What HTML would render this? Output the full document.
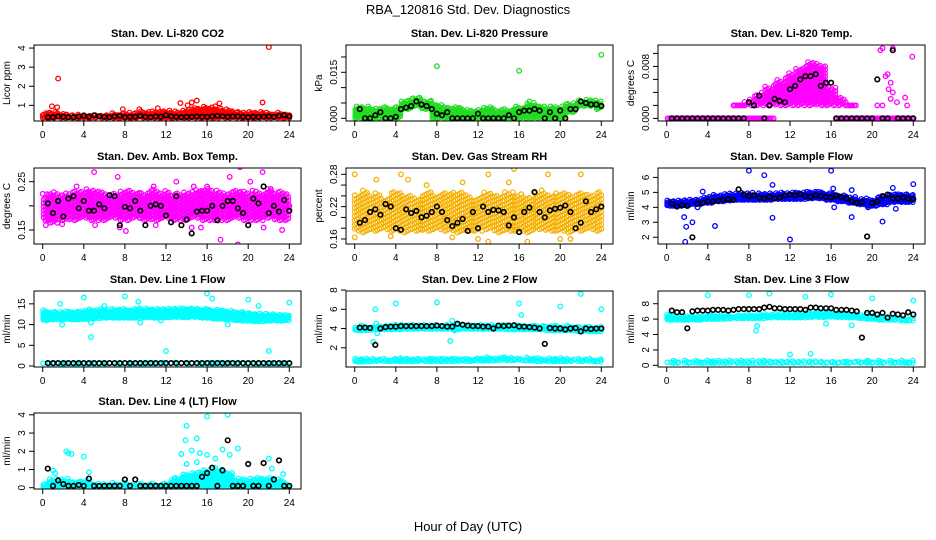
<!DOCTYPE html>
<html><head><meta charset="utf-8"><style>
html,body{margin:0;padding:0;background:#fff;}
svg{display:block;font-family:"Liberation Sans",sans-serif;}
</style></head><body>
<svg id="chart" width="936" height="540" viewBox="0 0 936 540" xmlns="http://www.w3.org/2000/svg">
<rect width="936" height="540" fill="#fff"/>
<text x="468" y="14" text-anchor="middle" font-size="13">RBA_120816  Std. Dev. Diagnostics</text>
<text x="468" y="531" text-anchor="middle" font-size="13">Hour of Day (UTC)</text>
<g id="plots"></g>
</svg>
<script>
const hours1 = [0,1,2,3,4,5,6,7,8,9,10,11,12,13,14,15,16,17,18,19,20,21,22,23,24];
const hours2 = [0,0.5,1,1.5,2,2.5,3,3.5,4,4.5,5,5.5,6,6.5,7,7.5,8,8.5,9,9.5,10,10.5,11,11.5,12,12.5,13,13.5,14,14.5,15,15.5,16,16.5,17,17.5,18,18.5,19,19.5,20,20.5,21,21.5,22,22.5,23,23.5,24];
const xTicks = [0,4,8,12,16,20,24];

// CO2
const co2Lo = [0.35,0.35,0.35,0.35,0.35,0.35,0.35,0.35,0.35,0.35,0.35,0.35,0.35,0.35,0.35,0.35,0.35,0.35,0.35,0.35,0.35,0.35,0.35,0.35,0.35];
const co2Hi = [0.65,0.7,0.6,0.55,0.55,0.55,0.55,0.6,0.65,0.65,0.7,0.7,0.75,0.7,0.8,0.9,0.95,0.85,0.8,0.72,0.7,0.68,0.62,0.65,0.6];
const co2Black = [null,0.38,0.38,0.42,0.4,0.38,0.38,0.42,0.45,0.4,0.48,0.42,0.4,0.38,0.42,0.45,0.38,0.4,0.4,0.45,0.4,0.38,0.42,0.4,0.48,0.42,0.4,0.38,0.4,0.4,0.42,0.4,0.4,0.42,0.45,0.42,0.4,0.42,0.42,0.4,0.38,0.4,0.4,0.4,0.42,0.4,0.45,0.48,0.42];
const co2OutX = [1.5,22,0.9,1.4,13.4,15,17.2,21.4,9.4,7.8,11.2,14.5,14.1,16.8];
const co2OutY = [2.4,4.05,0.95,0.9,1.12,1.25,1.1,1.15,0.8,0.8,0.85,1.15,1.0,0.95];

// Pressure
const presLo = [0,0,0,0,0,0.003,0.004,0.003,0,0,0,0,0,0,0,0,0,0,0,0,0,0.002,0.004,0.004,0.003];
const presHi = [0.004,0.004,0.0035,0.004,0.004,0.006,0.007,0.006,0.005,0.004,0.004,0.003,0.003,0.004,0.003,0.003,0.004,0.005,0.0045,0.004,0.004,0.005,0.006,0.0065,0.006];
const presBlack = [null,0.003,0,0,0.001,0.002,0,0,0.0005,0.003,0.0035,0.004,0.0055,0.0045,0.004,0.003,0.0015,0.001,0.002,0,0,0,0,0,0.0015,0,0,0,0,0,0.001,0,0.002,0.0025,0.0025,0.003,0.0025,0,0.002,0,0.0025,0,0.003,0.003,0.0055,0.005,0.0045,0.0045,0.004];
const presOutX = [8,16,24,17];
const presOutY = [0.017,0.0155,0.0207,0.0055];

// Li-820 Temp
const tempLo = [null,null,null,null,null,null,null,0.002,0.002,0.002,0.002,0.002,0.002,0.002,0.002,0.002,0.002,0.002,0.002,null,null,null,null,null,null];
const tempHi = [null,null,null,null,null,null,null,0.002,0.003,0.004,0.005,0.006,0.007,0.008,0.0088,0.0085,0.005,0.0035,0.002,null,null,null,null,null,null];
const tempZeroLo = [0,0,0,0,0,0,0,0,0,0,0,null,null,null,null,null,null,0,0,0,0,0,0,0,0];
const tempZeroHi = [0,0,0,0,0,0,0,0,0,0,0,null,null,null,null,null,null,0,0,0,0,0,0,0,0];
const tempBlack = [null,0,0,0,0,0,0,0,0,0,0,0,0,0,0,0,0.0025,0.002,0.0035,0,0.002,0.003,0.0027,0.0025,0.0045,0.005,0.006,0.0065,0.0065,0.0068,0.005,0.0055,0.0055,0,0,0,0,0,0,0,0,0.006,0,0,0.0105,0,0,0,0];
const tempOutX = [20.8,21,22,23.9,21.3,21.5,21.8,22,21.6,21.8,23.2,23.4,22.4,20.5,21,6.5];
const tempOutY = [0.0105,0.0108,0.0108,0.0095,0.0065,0.0068,0.0055,0.004,0.0045,0.003,0.0032,0.002,0.0025,0.002,0.002,0.002];

// Amb box temp
const ambLo = [0.17,0.165,0.17,0.17,0.175,0.17,0.17,0.175,0.17,0.175,0.17,0.17,0.175,0.17,0.17,0.175,0.17,0.17,0.17,0.175,0.17,0.17,0.175,0.17,0.17];
const ambHi = [0.225,0.23,0.228,0.232,0.235,0.235,0.23,0.228,0.235,0.232,0.23,0.235,0.232,0.228,0.23,0.235,0.238,0.232,0.23,0.235,0.232,0.23,0.235,0.232,0.228];
const ambBlack = [null,0.205,0.185,0.21,0.178,0.215,0.22,0.195,0.21,0.19,0.19,0.203,0.195,0.222,0.22,0.16,0.198,0.195,0.21,0.19,0.16,0.2,0.203,0.2,0.18,0.166,0.22,0.16,0.172,0.143,0.188,0.19,0.19,0.2,0.17,0.2,0.21,0.21,0.195,0.185,0.16,0.215,0.205,0.24,0.185,0.2,0.188,0.212,0.19];
const ambOutX = [0,0.3,1.9,3.3,5,5.1,7.3,7.5,8.1,10.8,11,13,13.5,14.5,14.7,15.4,16,17.3,18.2,19,19.2,20.2,21.4,21.5,22.2,23.3,24];
const ambOutY = [0.225,0.16,0.162,0.24,0.27,0.16,0.26,0.155,0.148,0.24,0.16,0.25,0.16,0.155,0.24,0.155,0.24,0.13,0.26,0.12,0.28,0.25,0.27,0.155,0.235,0.15,0.2];

// Gas stream RH
const rhLo = [0.175,0.172,0.175,0.178,0.175,0.172,0.175,0.175,0.178,0.175,0.172,0.175,0.175,0.178,0.172,0.175,0.175,0.172,0.178,0.175,0.175,0.172,0.175,0.178,0.175];
const rhHi = [0.245,0.25,0.245,0.24,0.25,0.245,0.24,0.25,0.245,0.25,0.25,0.245,0.24,0.25,0.245,0.25,0.245,0.24,0.25,0.245,0.25,0.245,0.25,0.245,0.25];
const rhBlack = [null,0.19,0.195,0.21,0.215,0.205,0.225,0.22,0.18,0.177,0.215,0.208,0.212,0.2,0.203,0.21,0.22,0.21,0.195,0.184,0.19,0.197,0.175,0.21,0.18,0.22,0.21,0.214,0.213,0.21,0.185,0.2,0.173,0.21,0.218,0.247,0.21,0.2,0.213,0.216,0.218,0.222,0.21,0.18,0.19,0.23,0.21,0.215,0.22];
const rhOutX = [0,0,2.1,4.5,5.2,7,9.5,10.5,13,15,15.5,16.8,18.8,22,13,20,21,3.5,12];
const rhOutY = [0.28,0.163,0.27,0.28,0.27,0.26,0.163,0.265,0.28,0.265,0.29,0.155,0.28,0.28,0.155,0.16,0.16,0.165,0.16];

// Sample flow
const flowLo = [4.1,4.1,4.15,4.2,4.3,4.4,4.45,4.5,4.5,4.5,4.5,4.55,4.55,4.55,4.6,4.6,4.5,4.4,4.3,4.2,4.1,4.2,4.35,4.35,4.35];
const flowHi = [4.5,4.5,4.55,4.6,4.75,4.85,4.95,5.0,5.0,4.95,4.95,5.0,5.0,5.05,5.1,5.1,5.0,4.85,4.7,4.6,4.55,4.8,4.95,4.95,4.9];
const flowBlack = [null,4.25,4.05,4.15,4.1,2.0,4.25,4.3,4.4,4.4,4.45,4.5,4.55,4.5,5.2,4.85,4.75,4.8,4.65,4.6,4.7,4.6,4.65,4.8,4.85,4.8,4.9,4.75,4.7,4.8,4.75,4.7,4.65,4.8,4.7,4.6,4.4,4.3,4.35,2.05,4.3,4.4,4.75,4.85,4.6,4.6,4.65,4.6,4.55];
const flowOutX = [1.7,1.9,1.8,2.5,3.5,4.7,8,9.5,10.3,10.3,12,16,16.2,16.3,18,18,21,22,22.3,24,3,19.6];
const flowOutY = [3.35,2.7,1.7,3.0,5.05,2.75,6.45,6.15,5.5,3.3,1.85,6.45,5.25,4.0,3.35,5.15,3.05,5.3,3.9,5.55,4.0,4.0];

// Line 1
const l1Lo = [11,11.2,11.3,11.2,11.3,11.5,11.6,11.6,11.6,11.6,11.7,11.6,11.7,11.8,11.7,11.8,11.6,11.4,11.3,11.0,10.9,10.8,10.9,10.9,11];
const l1Hi = [13.5,13.3,13.2,13.3,13.5,13.7,13.8,13.8,13.8,13.9,13.9,13.9,14,14.1,14.1,14.1,14,13.8,13.5,13.3,13,12.8,12.7,12.6,12.5];
const l1BaseLo = [0.5,0.5,0.5,0.5,0.5,0.5,0.5,0.5,0.5,0.5,0.5,0.5,0.5,0.5,0.5,0.5,0.5,0.5,0.5,0.5,0.5,0.5,0.5,0.5,0.5];
const l1BaseHi = [0.9,0.9,0.9,0.9,0.9,0.9,0.9,0.9,0.9,0.9,0.9,0.9,0.9,0.9,0.9,0.9,0.9,0.9,0.9,0.9,0.9,0.9,0.9,0.9,0.9];
const l1Black = [null,0.7,0.7,0.7,0.7,0.7,0.7,0.7,0.7,0.7,0.7,0.7,0.7,0.7,0.7,0.7,0.7,0.7,0.7,0.7,0.7,0.7,0.7,0.7,0.7,0.7,0.7,0.7,0.7,0.7,0.7,0.7,0.7,0.7,0.7,0.7,0.7,0.7,0.7,0.7,0.7,0.7,0.7,0.7,0.7,0.7,0.7,0.7,0.7];
const l1OutX = [1.7,1.9,4,4.7,4.7,6,8,9.3,9.5,11.5,12,16,16.5,18,20,21,22,24];
const l1OutY = [15,10,16.5,10.5,7,14.5,16.8,15.5,10.5,11,3.6,17.5,16.3,10,16,14.5,3.6,15.3];

// Line 2
const l2Lo = [3.8,3.8,3.9,3.9,3.9,3.95,3.95,3.95,3.95,3.95,3.9,3.95,3.95,3.95,3.95,3.9,3.9,3.9,3.9,3.8,3.8,3.8,3.7,3.7,3.7];
const l2Hi = [4.3,4.3,4.3,4.35,4.4,4.4,4.4,4.4,4.4,4.4,4.4,4.45,4.45,4.45,4.45,4.45,4.45,4.4,4.4,4.35,4.3,4.3,4.25,4.2,4.2];
const l2BaseLo = [0.55,0.55,0.6,0.6,0.6,0.6,0.6,0.6,0.6,0.6,0.6,0.6,0.65,0.65,0.7,0.7,0.7,0.65,0.6,0.6,0.6,0.6,0.6,0.6,0.55];
const l2BaseHi = [0.95,0.9,0.9,0.9,0.95,0.95,0.95,0.95,0.95,0.95,0.95,0.95,1.0,1.05,1.05,1.05,1.0,1.0,0.95,0.95,0.95,0.9,0.9,0.9,0.9];
const l2Black = [null,4.1,4.1,4.05,2.3,4.0,4.15,4.2,4.2,4.25,4.25,4.25,4.25,4.25,4.25,4.25,4.3,4.25,4.2,4.2,4.5,4.4,4.3,4.25,4.25,4.2,4.2,4.0,4.3,4.25,4.3,4.35,4.2,4.2,4.15,4.1,4.0,2.4,4.05,4.0,4.0,3.9,4.0,4.05,3.7,4.0,3.95,4.0,4.0];
const l2OutX = [2,1.8,4,8,9.5,9.3,9.7,16,16.2,20,22,24,2.2,2.1];
const l2OutY = [6,2.6,6.6,6.7,4.8,2.7,3.8,6.6,5.4,6.3,7.6,6,3.5,4.5];

// Line 3
const l3Lo = [5.9,5.9,5.9,5.9,6.0,6.0,6.05,6.1,6.1,6.1,6.2,6.2,6.2,6.2,6.25,6.25,6.3,6.25,6.2,6.1,6.0,5.9,5.9,5.8,5.8];
const l3Hi = [6.8,6.5,6.5,6.5,6.6,6.6,6.6,6.6,6.7,6.7,6.7,6.75,6.8,6.9,6.95,7.0,7.0,6.9,6.8,6.6,6.5,6.4,6.3,6.2,6.2];
const l3BaseLo = [0.3,0.3,0.3,0.3,0.3,0.3,0.3,0.3,0.3,0.3,0.3,0.3,0.3,0.3,0.3,0.3,0.3,0.3,0.3,0.3,0.3,0.3,0.3,0.3,0.3];
const l3BaseHi = [0.6,0.6,0.6,0.6,0.6,0.6,0.6,0.6,0.6,0.6,0.6,0.6,0.6,0.6,0.6,0.6,0.6,0.6,0.6,0.6,0.6,0.6,0.6,0.6,0.6];
const l3Black = [null,7.1,6.9,6.9,4.8,7.0,7.1,7.1,7.1,7.2,7.2,7.2,7.1,7.2,7.3,7.3,7.3,7.3,7.3,7.5,7.6,7.4,7.4,7.3,7.3,7.3,7.3,7.2,7.5,7.5,7.4,7.4,7.4,7.2,7.2,7.2,7.1,7.0,3.6,6.8,6.8,6.6,6.8,6.2,6.7,6.6,6.5,6.9,6.6];
const l3OutX = [4,8,10,13.5,16,24,12,14,8.7,8.8,15.5,18,20];
const l3OutY = [9.1,9.1,9.3,8.9,9.2,8.4,1.4,1.5,4.5,5.1,5.4,5.2,8.7];

// Line 4
const l4Lo = [0,0,0,0,0,0,0,0,0,0,0,0,0,0,0,0,0,0,0,0,0,0,0,0,0];
const l4Hi = [0.3,0.5,0.5,0.4,0.45,0.3,0.25,0.3,0.3,0.25,0.25,0.25,0.3,0.6,0.8,0.9,1.0,1.0,0.9,0.5,0.5,0.6,0.6,0.5,0.3];
const l4Black = [null,1.05,0.1,0.4,0.2,0.1,0.1,0.15,0.1,0.5,0.1,0.1,0.1,0.1,0.1,0.1,0.45,0.1,0.45,0.1,0.1,0.1,0.1,0.1,0.1,0.1,0.1,0.1,0.1,0.1,0.1,0.6,0.8,1.1,0.1,0.95,2.6,0.1,0.1,0.1,1.3,0.1,0.1,1.35,0.1,0.45,1.5,0.1,0.1];
const l4OutX = [2.3,2.5,2.8,4,4.5,1.2,1,14,13.9,15,16,18,17.5,19,14.5,13.5,15.3,16,16.8,22,22.3,18.2,15,14,16.8,23.4];
const l4OutY = [2.0,1.9,1.85,1.7,0.85,0.8,0.95,3.4,2.6,2.7,3.9,4.0,2.1,2.15,2.05,1.85,1.9,1.8,1.6,1.6,1.05,1.8,1.4,1.3,1.1,0.75];

const colX = [34,346,658], rowY = [45,168,291,413], BW = 267, BH = 76;
const panels = [
 {key:'co2',title:'Stan. Dev. Li-820 CO2',ylab:'Licor ppm',c:0,r:0,ylim:[0.18,4.16],ticks:[1,2,3,4],labels:['1','2','3','4'],col:'#ff0000',sp:2.6,cols:9,bands:[[co2Lo,co2Hi]],black:co2Black,ox:co2OutX,oy:co2OutY},
 {key:'pressure',title:'Stan. Dev. Li-820 Pressure',ylab:'kPa',c:1,r:0,ylim:[-0.00088,0.0239],ticks:[0,0.005,0.010,0.015,0.020],labels:['0.000','','','0.015',''],col:'#22dd22',sp:2.8,cols:8,bands:[[presLo,presHi]],black:presBlack,ox:presOutX,oy:presOutY},
 {key:'temp',title:'Stan. Dev. Li-820 Temp.',ylab:'degrees C',c:2,r:0,ylim:[-0.0004,0.0113],ticks:[0,0.002,0.004,0.006,0.008,0.010],labels:['0.000','','','','0.008',''],col:'#ff00ff',sp:3.4,cols:6,bands:[[tempLo,tempHi],[tempZeroLo,tempZeroHi]],black:tempBlack,ox:tempOutX,oy:tempOutY},
 {key:'ambbox',title:'Stan. Dev. Amb. Box Temp.',ylab:'degrees C',c:0,r:1,ylim:[0.121,0.2784],ticks:[0.15,0.20,0.25],labels:['0.15','','0.25'],col:'#ff00ff',sp:3.6,cols:6,bands:[[ambLo,ambHi]],black:ambBlack,ox:ambOutX,oy:ambOutY},
 {key:'rh',title:'Stan. Dev. Gas Stream RH',ylab:'percent',c:1,r:1,ylim:[0.1507,0.2917],ticks:[0.16,0.18,0.20,0.22,0.24,0.26,0.28],labels:['0.16','','','0.22','','','0.28'],col:'#f5b000',sp:4.2,cols:5,bands:[[rhLo,rhHi]],black:rhBlack,ox:rhOutX,oy:rhOutY},
 {key:'sampleflow',title:'Stan. Dev. Sample Flow',ylab:'ml/min',c:2,r:1,ylim:[1.55,6.63],ticks:[2,3,4,5,6],labels:['2','3','4','5','6'],col:'#0000ff',sp:2.4,cols:10,bands:[[flowLo,flowHi]],black:flowBlack,ox:flowOutX,oy:flowOutY},
 {key:'line1',title:'Stan. Dev. Line 1 Flow',ylab:'ml/min',c:0,r:2,ylim:[-0.24,18.1],ticks:[0,5,10,15],labels:['0','5','10','15'],col:'#00ffff',sp:2.4,cols:10,bands:[[l1Lo,l1Hi],[l1BaseLo,l1BaseHi]],black:l1Black,ox:l1OutX,oy:l1OutY},
 {key:'line2',title:'Stan. Dev. Line 2 Flow',ylab:'ml/min',c:1,r:2,ylim:[0,7.9],ticks:[2,4,6,8],labels:['2','4','6','8'],col:'#00ffff',sp:2.4,cols:10,bands:[[l2Lo,l2Hi],[l2BaseLo,l2BaseHi]],black:l2Black,ox:l2OutX,oy:l2OutY},
 {key:'line3',title:'Stan. Dev. Line 3 Flow',ylab:'ml/min',c:2,r:2,ylim:[-0.22,9.65],ticks:[0,2,4,6,8],labels:['0','2','4','6','8'],col:'#00ffff',sp:2.4,cols:10,bands:[[l3Lo,l3Hi],[l3BaseLo,l3BaseHi]],black:l3Black,ox:l3OutX,oy:l3OutY},
 {key:'line4',title:'Stan. Dev. Line 4 (LT) Flow',ylab:'ml/min',c:0,r:3,ylim:[-0.07,4.1],ticks:[0,1,2,3,4],labels:['0','1','2','3','4'],col:'#00ffff',sp:2.8,cols:8,bands:[[l4Lo,l4Hi]],black:l4Black,ox:l4OutX,oy:l4OutY}
];
const NS='http://www.w3.org/2000/svg';
function mk(tag, attrs, parent){const e=document.createElementNS(NS,tag);for(const k in attrs)e.setAttribute(k,attrs[k]);parent.appendChild(e);return e;}
const root=document.getElementById('plots');
panels.forEach(p=>{
  const L=colX[p.c], T=rowY[p.r];
  const xs=h=>L+8.7+h*(246.6/24);
  const ys=v=>T+BH-(v-p.ylim[0])/(p.ylim[1]-p.ylim[0])*BH;
  const g=mk('g',{},root);
  
  
  const t=mk('text',{x:L+BW/2,y:T-8,'text-anchor':'middle','font-size':'11','font-weight':'bold'},g);
  t.textContent=p.title;
  
  
  const cl=mk('clipPath',{id:'cp-'+p.key},g);
  mk('rect',{x:L,y:T,width:BW,height:BH},cl);
  const pts=mk('g',{'clip-path':'url(#cp-'+p.key+')'},g);
  
  
  const dot=(x,y,col,w)=>{const c=mk('circle',{cx:x.toFixed(1),cy:y.toFixed(1),r:2.3,fill:'none',stroke:col,'stroke-width':w},pts);
    
    };
  p.bands.forEach(([lo,hi])=>{
    hours1.forEach((h,i)=>{
      if(lo[i]==null||hi[i]==null)return;
      const y0=ys(lo[i]), y1=ys(hi[i]);
      const n=p.cols;
      for(let k=0;k<n;k++){
        const hx=h-0.5+(k+0.5)/n; if(hx<0||hx>24)continue;
        const px=xs(hx);
        const off=((i*3+k*5)%4)*p.sp/4;
        const jag=((i*7+k*3)%5)*0.8;
        for(let y=y0-off;y>=y1+jag-0.1;y-=p.sp) dot(px,y,p.col,1.2);
        if(y0-y1<1) dot(px,y1,p.col,1.2);
      }
    });
  });
  p.ox.forEach((x,i)=>dot(xs(x),ys(p.oy[i]),p.col,1.3));
  hours2.forEach((h,i)=>{const v=p.black[i]; if(v==null)return; dot(xs(h),ys(v),'#000',1.6);});
  const box=mk('rect',{x:L,y:T,width:BW,height:BH,fill:'none',stroke:'#000','stroke-width':1},g);
  
  
  const xa=mk('g',{},g);
  
  
  mk('line',{x1:xs(0),x2:xs(24),y1:T+BH,y2:T+BH,stroke:'#000'},xa);
  xTicks.forEach(v=>{mk('line',{x1:xs(v),x2:xs(v),y1:T+BH,y2:T+BH+5,stroke:'#000'},xa);
    const tt=mk('text',{x:xs(v),y:T+BH+17,'text-anchor':'middle','font-size':'10'},xa);tt.textContent=String(v);});
  const ya=mk('g',{},g);
  
  
  p.ticks.forEach((v,i)=>{const y=ys(v); if(y<T-3)return;
    mk('line',{x1:L-5,x2:L,y1:y,y2:y,stroke:'#000'},ya);
    if(p.labels[i]){const tt=mk('text',{x:0,y:0,'text-anchor':'middle','font-size':'10',transform:`translate(${L-9},${y}) rotate(-90)`},ya);tt.textContent=p.labels[i];}});
  const yl=mk('text',{x:0,y:0,'text-anchor':'middle','font-size':'10',transform:`translate(${L-24},${T+BH/2}) rotate(-90)`},g);
  yl.textContent=p.ylab;
  
  
});
</script>
</body></html>
